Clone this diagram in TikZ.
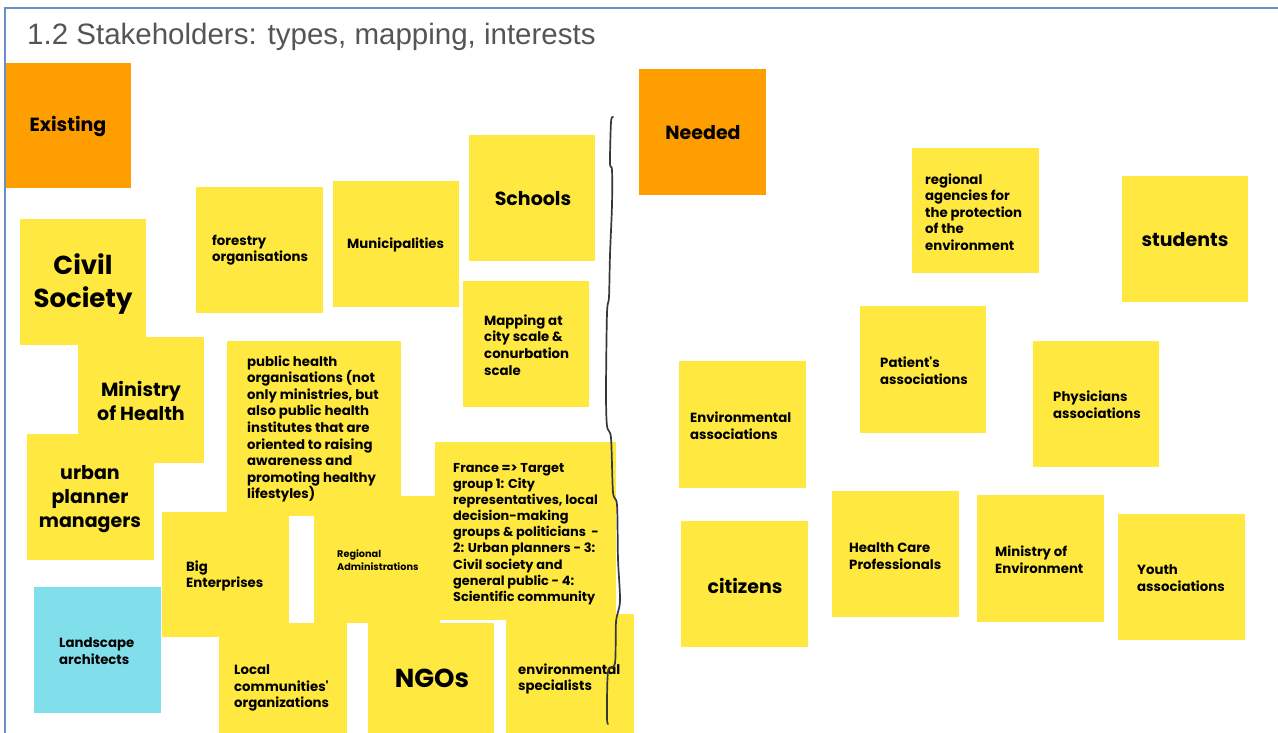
\documentclass[tikz,border=0pt]{standalone}
\usepackage{fontspec}
\setmainfont{Liberation Sans}
\newfontfamily\notefont{Poppins}
\definecolor{noteyellow}{RGB}{255,233,64}
\definecolor{noteorange}{RGB}{255,158,0}
\definecolor{notecyan}{RGB}{128,223,235}
\definecolor{framecol}{RGB}{105,143,200}
\definecolor{titlegray}{RGB}{85,85,85}
\definecolor{penline}{RGB}{55,55,55}
\tikzset{
  sticky/.style={fill=noteyellow, draw=none, inner sep=0pt, outer sep=0pt, anchor=north west, minimum width=127pt, minimum height=126pt},
  orangenote/.style={sticky, fill=noteorange},
  cyannote/.style={sticky, fill=notecyan},
  smalltxt/.style={font=\notefont\bfseries\fontsize{13.3}{16.6}\selectfont, align=left, inner sep=0pt, anchor=west, text=black},
  francetxt/.style={smalltxt, font=\notefont\bfseries\fontsize{12.9}{16.1}\selectfont},
  tinytxt/.style={font=\notefont\bfseries\fontsize{9.7}{13}\selectfont, align=left, inner sep=0pt, anchor=west, text=black},
  midtxt/.style={font=\notefont\bfseries\fontsize{19}{24}\selectfont, align=center, inner sep=0pt, anchor=center, text=black},
  bigtxt/.style={font=\notefont\bfseries\fontsize{26}{33}\selectfont, align=center, inner sep=0pt, anchor=center, text=black},
  pen/.style={draw=penline, line width=1.7pt, line cap=round, line join=round},
}
\begin{document}
\begin{tikzpicture}[x=1pt,y=-1pt]
\useasboundingbox (0,0) rectangle (1278,733);
\clip (0,0) rectangle (1278,733);
\fill[white] (0,0) rectangle (1278,733);
% frame
\draw[framecol, line width=1.5pt] (5,740) -- (5,8) -- (1285,8);
\node[font=\fontsize{29.5}{34}\selectfont, text=titlegray, anchor=base west, inner sep=0pt] (title) at (27,45) {1.2 Stakeholders: types, mapping, interests};
% ---- left side notes ----
\node[orangenote, minimum width=125pt, minimum height=125pt] (existing) at (6,63) {};
\node[sticky, minimum width=126pt] (civil) at (20,219) {};
\node[sticky] (forestry) at (196,187) {};
\node[sticky, minimum width=126pt] (munic) at (333,181) {};
\node[sticky, minimum width=126pt] (schools) at (469,135) {};
\node[sticky, minimum width=126pt] (mapping) at (463,281) {};
\node[sticky, minimum width=126pt] (minhealth) at (78,337) {};
\node[sticky] (urban) at (27,434) {};
\node[sticky, minimum width=174pt, minimum height=175pt] (pubhealth) at (227,341) {};
\node[sticky, minimum height=125pt] (bigent) at (162,512) {};
\node[sticky, minimum width=126pt, minimum height=127pt] (regadm) at (314,496) {};
\node[sticky, minimum width=181pt, minimum height=178pt] (france) at (435,442) {};
\node[cyannote, minimum width=127pt] (landscape) at (34,587) {};
\node[sticky, minimum width=128pt] (localcom) at (219,623) {};
\node[sticky, minimum width=126pt] (ngos) at (368,623) {};
\node[sticky, minimum width=128pt] (envspec) at (506,614) {};
% ---- right side notes ----
\node[orangenote] (needed) at (639,69) {};
\node[sticky, minimum height=125pt] (regagencies) at (912,148) {};
\node[sticky, minimum width=126pt] (students) at (1122,176) {};
\node[sticky, minimum width=126pt, minimum height=127pt] (patient) at (860,306) {};
\node[sticky, minimum width=126pt] (physicians) at (1033,341) {};
\node[sticky, minimum height=127pt] (envassoc) at (679,361) {};
\node[sticky] (citizens) at (681,521) {};
\node[sticky] (healthcare) at (832,491) {};
\node[sticky, minimum height=127pt] (minenv) at (977,495) {};
\node[sticky] (youth) at (1118,514) {};
% ---- texts ----
\node[midtxt] (t-existing) at (68,127) {Existing};
\node[bigtxt] (t-civil) at (83,284) {Civil\\Society};
\node[smalltxt] (t-forestry) at (212,250) {forestry\\organisations};
\node[smalltxt] (t-munic) at (347,245) {Municipalities};
\node[midtxt] (t-schools) at (533,199) {Schools};
\node[smalltxt] (t-mapping) at (484,345) {Mapping at\\city scale \&\\conurbation\\scale};
\node[midtxt] (t-minhealth) at (141,401) {Ministry\\of Health};
\node[midtxt] (t-urban) at (90,499) {urban\\planner\\managers};
\node[smalltxt] (t-pubhealth) at (247,429) {public health\\organisations (not\\only ministries, but\\also public health\\institutes that are\\oriented to raising\\awareness and\\promoting healthy\\lifestyles)};
\node[smalltxt] (t-bigent) at (186,576) {Big\\Enterprises};
\node[tinytxt] (t-regadm) at (337,560) {Regional\\Administrations};
\node[francetxt] (t-france) at (453,534) {France => Target\\group 1: City\\representatives, local\\decision-making\\groups \& politicians~~-\\2: Urban planners - 3:\\Civil society and\\general public - 4:\\Scientific community};
\node[smalltxt] (t-landscape) at (59,651) {Landscape\\architects};
\node[smalltxt] (t-localcom) at (234,688) {Local\\communities'\\organizations};
\node[bigtxt] (t-ngos) at (432,678) {NGOs};
\node[smalltxt] (t-envspec) at (518,679) {environmental\\specialists};
\node[midtxt] (t-needed) at (703,133) {Needed};
\node[smalltxt] (t-regagencies) at (925,212) {regional\\agencies for\\the protection\\of the\\environment};
\node[midtxt] (t-students) at (1185,240) {students};
\node[smalltxt] (t-patient) at (880,371) {Patient's\\associations};
\node[smalltxt] (t-physicians) at (1053,405) {Physicians\\associations};
\node[smalltxt] (t-envassoc) at (690,426) {Environmental\\associations};
\node[midtxt] (t-citizens) at (745,586) {citizens};
\node[smalltxt] (t-healthcare) at (849,556) {Health Care\\Professionals};
\node[smalltxt] (t-minenv) at (995,560) {Ministry of\\Environment};
\node[smalltxt] (t-youth) at (1137,578) {Youth\\associations};
% ---- hand drawn divider ----
\draw[pen] plot[smooth, tension=0.5] coordinates {(613,117) (611,122) (610,163) (612,170) (612,205) (610,255) (609,297) (607,313) (606,392) (607,426) (611,438) (613,492) (617,505) (618,559) (620,601) (616,622) (615,663) (608,672) (607,717) (608,724)};
\end{tikzpicture}
\end{document}
